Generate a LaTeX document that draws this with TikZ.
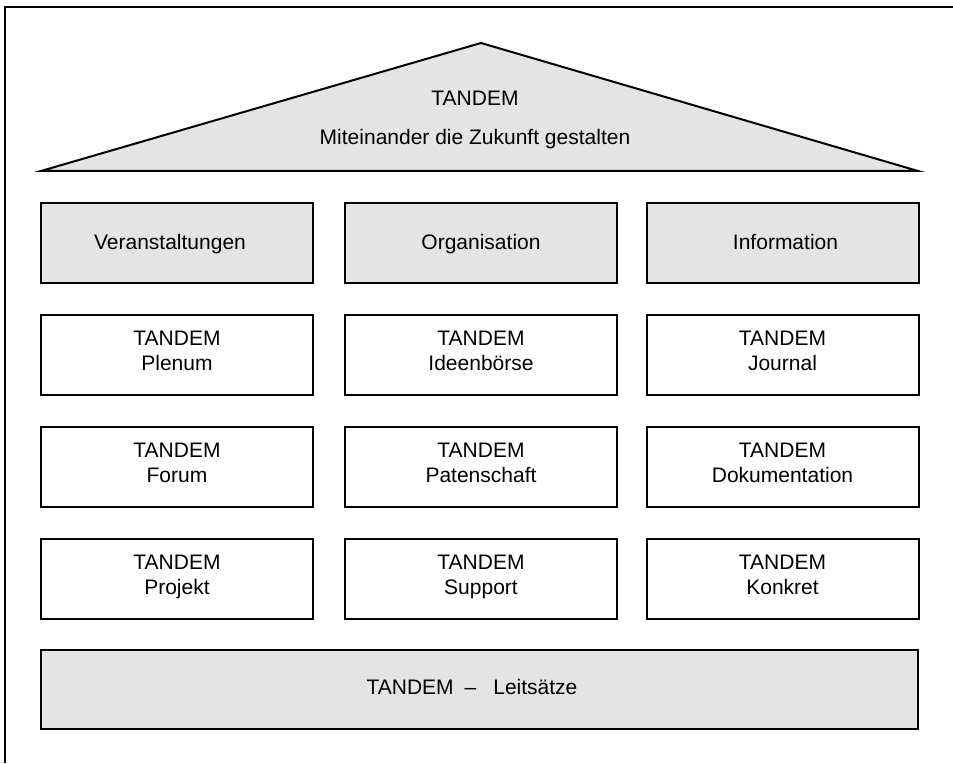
\documentclass[tikz,border=0pt]{standalone}
\usepackage{fontspec}
\setmainfont{Liberation Sans}
\definecolor{boxgray}{HTML}{E4E4E4}
\begin{document}
\begin{tikzpicture}[x=1pt,y=1pt,
  box/.style={draw=black, line width=2pt, minimum width=272pt, minimum height=80pt, inner sep=0pt, outer sep=0pt},
  graybox/.style={box, fill=boxgray},
  whitebox/.style={box, fill=white},
  lbl/.style={anchor=base, inner sep=0pt, font=\fontsize{21}{23}\selectfont, text=black}]
\useasboundingbox (0,0) rectangle (953,763);
% frame
\draw[line width=2.4pt] (5,0) -- (5,756) -- (953,756);
% roof
\draw[line width=2pt, fill=boxgray, line join=miter] (41,592) -- (481,720) -- (918,592) -- cycle;
\node[lbl] (rt1) at (475,657) {TANDEM};
\node[lbl] (rt2) at (475,618) {Miteinander die Zukunft gestalten};
% row 1
\node[graybox] (v) at (177,520) {};
\node[graybox] (o) at (481,520) {};
\node[graybox] (i) at (782.5,520) {};
\node[lbl] at ([xshift=-7pt,yshift=-7pt]v.center) {Veranstaltungen};
\node[lbl] at ([yshift=-7pt]o.center) {Organisation};
\node[lbl] at ([xshift=3pt,yshift=-7pt]i.center) {Information};
% rows 2-4
\foreach \n/\x/\y/\t in {a1/177/408/Plenum, a2/481/408/Ideenbörse, a3/782.5/408/Journal,
                         b1/177/296/Forum, b2/481/296/Patenschaft, b3/782.5/296/Dokumentation,
                         c1/177/184/Projekt, c2/481/184/Support, c3/782.5/184/Konkret}{
  \node[whitebox] (\n) at (\x,\y) {};
  \node[lbl] at ([yshift=9pt]\n.center) {TANDEM};
  \node[lbl] at ([yshift=-15.5pt]\n.center) {\t};
}
% bottom
\node[graybox, minimum width=877pt, minimum height=79pt] (l) at (479.5,73.5) {};
\node[lbl] at ([xshift=-7.5pt,yshift=-5.5pt]l.center) {TANDEM\hspace{11pt}–\hspace{17pt}Leitsätze};
\end{tikzpicture}
\end{document}
